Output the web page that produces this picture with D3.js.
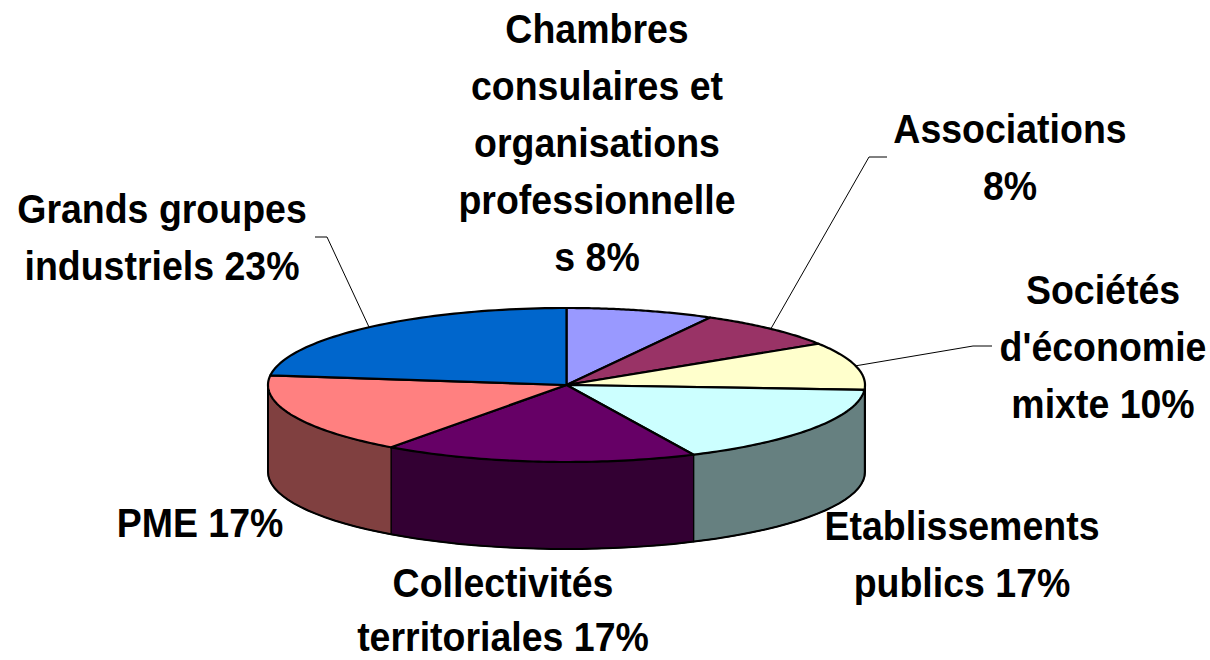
<!DOCTYPE html>
<html>
<head>
<meta charset="utf-8">
<script src="https://cdn.jsdelivr.net/npm/d3@7"></script>
<style>
  body { margin: 0; background: #fff; }
  text { font-family: "Liberation Sans", Arial, sans-serif; font-weight: bold; fill: #000; }
</style>
</head>
<body>
<svg id="chart" width="1210" height="660"></svg>
<script>
// data
const categories = [
  'Chambres consulaires et organisations professionnelles',
  'Associations',
  "Sociétés d'économie mixte",
  'Etablissements publics',
  'Collectivités territoriales',
  'PME',
  'Grands groupes industriels'
]
const shares = [8, 8, 10, 17, 17, 17, 23]
const labelLines = [
  ['Chambres', 'consulaires et', 'organisations', 'professionnelle', 's 8%'],
  ['Associations', '8%'],
  ['Sociétés', "d'économie", 'mixte 10%'],
  ['Etablissements', 'publics 17%'],
  ['Collectivités', 'territoriales 17%'],
  ['PME 17%'],
  ['Grands groupes', 'industriels 23%']
]
const topColors = ['#9999FF', '#993366', '#FFFFCC', '#CCFFFF', '#660066', '#FF8080', '#0066CC']
const sideColors = ['#4D4D80', '#4D1A33', '#808066', '#668080', '#330033', '#804040', '#003366']

// layout
const cx = 566.5, cy = 385, rx = 298.5, ry = 77, depth = 87
const labelPos = [
  { x: 597, y: 43, gap: 57 },
  { x: 1010, y: 143, gap: 57 },
  { x: 1103, y: 304, gap: 57 },
  { x: 962, y: 540, gap: 57 },
  { x: 503, y: 597, gap: 54 },
  { x: 200, y: 537, gap: 57 },
  { x: 162, y: 223, gap: 57 }
]
// leader lines: [start point, elbow point] -> slice mid point on the rim
const leaders = {
  1: [[887, 157], [869, 157]],
  2: [[992, 346], [973, 346]],
  6: [[315, 237], [327, 237]]
}

const svg = d3.select('#chart')

const pie = d3.pie().sort(null).value(d => d)
const arcs = pie(shares)

const proj = (a, dz = 0) => [cx + rx * Math.sin(a), cy - ry * Math.cos(a) + dz]
const samples = (a0, a1) => d3.range(0, 61).map(i => a0 + (a1 - a0) * i / 60)
const line = d3.line().curve(d3.curveLinearClosed)

// side faces (front half only)
const sides = svg.append('g')
arcs.forEach((d, i) => {
  const s0 = Math.max(d.startAngle, Math.PI / 2)
  const s1 = Math.min(d.endAngle, Math.PI * 3 / 2)
  if (s1 <= s0) return
  const pts = samples(s0, s1).map(a => proj(a))
    .concat(samples(s1, s0).map(a => proj(a, depth)))
  sides.append('path')
    .attr('d', line(pts))
    .attr('fill', sideColors[i])
    .attr('stroke', '#000')
    .attr('stroke-width', 1.2)
    .attr('stroke-linejoin', 'round')
})
// bottom rim outline
sides.append('path')
  .attr('d', d3.line()(samples(Math.PI / 2, Math.PI * 3 / 2).map(a => proj(a, depth))))
  .attr('fill', 'none')
  .attr('stroke', '#000')
  .attr('stroke-width', 2)
sides.append('path')
  .attr('d', d3.line()([proj(Math.PI / 2), proj(Math.PI / 2, depth)]))
  .attr('stroke', '#000').attr('stroke-width', 2)
sides.append('path')
  .attr('d', d3.line()([proj(Math.PI * 3 / 2), proj(Math.PI * 3 / 2, depth)]))
  .attr('stroke', '#000').attr('stroke-width', 2)

// top faces
const tops = svg.append('g')
arcs.forEach((d, i) => {
  const pts = [[cx, cy]].concat(samples(d.startAngle, d.endAngle).map(a => proj(a)))
  tops.append('path')
    .attr('d', line(pts))
    .attr('fill', topColors[i])
    .attr('stroke', '#000')
    .attr('stroke-width', 2.2)
    .attr('stroke-linejoin', 'round')
})

// leader lines
Object.keys(leaders).forEach(k => {
  const d = arcs[k]
  const mid = (d.startAngle + d.endAngle) / 2
  svg.append('path')
    .attr('d', d3.line()(leaders[k].concat([proj(mid)])))
    .attr('fill', 'none')
    .attr('stroke', '#000')
    .attr('stroke-width', 1)
})

// labels
labelLines.forEach((lines, i) => {
  const p = labelPos[i]
  lines.forEach((t, j) => {
    svg.append('text')
      .attr('transform', `translate(${p.x},${p.y + j * p.gap}) scale(1,1.1)`)
      .attr('text-anchor', 'middle')
      .attr('font-size', 37.5)
      .text(t)
  })
})
</script>
</body>
</html>
